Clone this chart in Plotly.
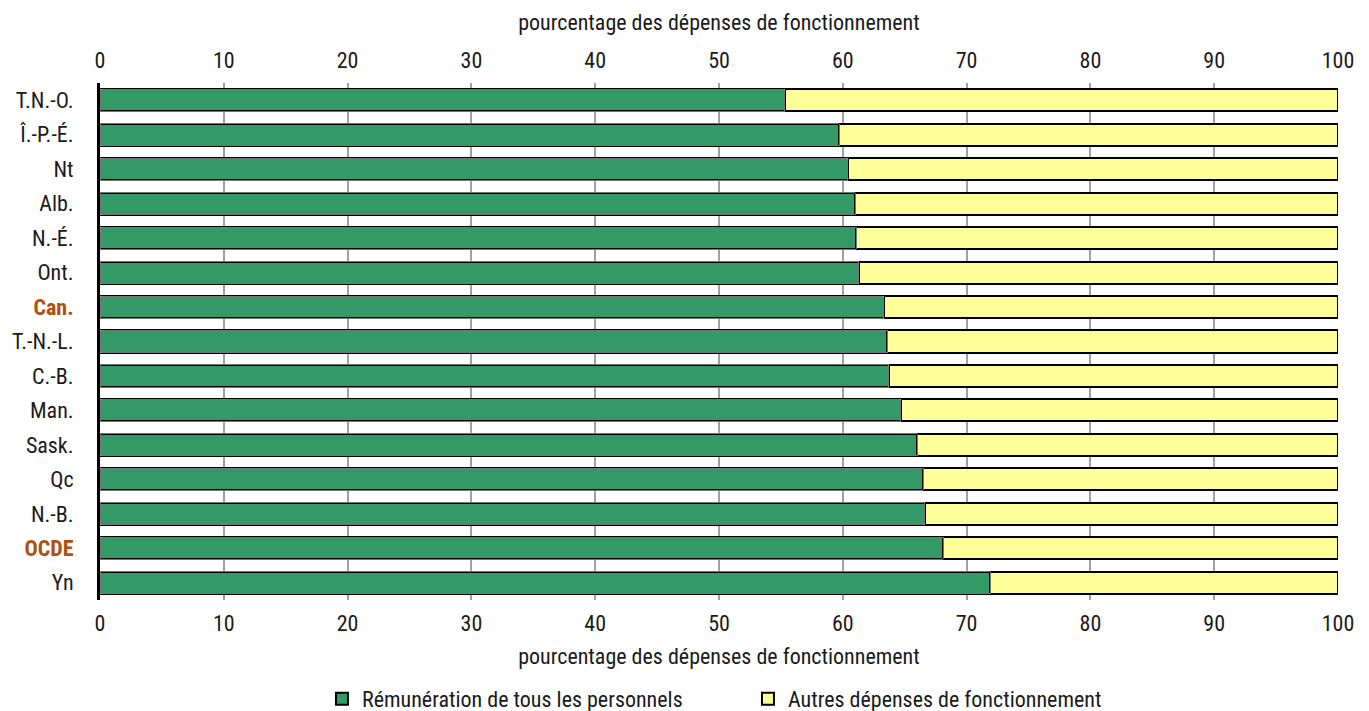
import plotly.graph_objects as go

# Jurisdictions, top to bottom
regions = ["T.N.-O.", "Î.-P.-É.", "Nt", "Alb.", "N.-É.", "Ont.", "Can.", "T.-N.-L.",
           "C.-B.", "Man.", "Sask.", "Qc", "N.-B.", "OCDE", "Yn"]
# Share of operating expenditure (%)
staff_pay = [55.3, 59.7, 60.4, 61.0, 61.1, 61.3, 63.3, 63.6, 63.7, 64.7, 66.0, 66.5, 66.6, 68.1, 71.9]
other_ops = [round(100 - v, 1) for v in staff_pay]
highlighted = {"Can.", "OCDE"}

x_ticks = list(range(0, 101, 10))
axis_title = "pourcentage des dépenses de fonctionnement"
series_names = ["Rémunération de tous les personnels", "Autres dépenses de fonctionnement"]

FONT = "Roboto Condensed, Noto Sans Condensed, Liberation Sans Narrow, DejaVu Sans Condensed, sans-serif"
FS = 22
GREEN = "#339966"
YELLOW = "#FFFF99"
ACCENT = "#B0500F"
INK = "#1a1a1a"

tick_text = [
    f"<b><span style='color:{ACCENT}'>{r}</span></b>" if r in highlighted else r
    for r in regions
]

fig = go.Figure()
fig.add_bar(
    y=regions, x=staff_pay, orientation="h", name=series_names[0],
    marker=dict(color=GREEN, line=dict(color="black", width=2)),
)
fig.add_bar(
    y=regions, x=other_ops, orientation="h", name=series_names[1],
    marker=dict(color=YELLOW, line=dict(color="black", width=2)),
)
# same data on the top axis so that it is drawn
fig.add_bar(
    y=regions, x=staff_pay, orientation="h", xaxis="x2", showlegend=False,
    marker=dict(color="rgba(0,0,0,0)"), hoverinfo="skip",
)

axis_common = dict(
    range=[0, 100], tickvals=x_ticks, ticktext=[str(t) for t in x_ticks],
    showgrid=True, gridcolor="#A0A0A0", gridwidth=2, zeroline=False,
    showline=False, ticks="", tickfont=dict(size=FS, color=INK),
    automargin=False,
)

fig.update_layout(
    barmode="stack",
    bargap=0.36,
    width=1369, height=711,
    margin=dict(l=100, r=31, t=83, b=111),
    paper_bgcolor="white", plot_bgcolor="white",
    font=dict(family=FONT, size=FS, color=INK),
    xaxis=dict(**axis_common, side="bottom", ticklabelstandoff=8,
               title=dict(text=axis_title, font=dict(size=FS, color=INK), standoff=13)),
    xaxis2=dict(**axis_common, side="top", overlaying="x", matches="x", ticklabelstandoff=10,
                title=dict(text=axis_title, font=dict(size=FS, color=INK), standoff=10)),
    yaxis=dict(
        categoryorder="array", categoryarray=regions, autorange="reversed",
        tickvals=regions, ticktext=tick_text, ticks="", ticklabelstandoff=19,
        showgrid=False, showline=True, linecolor="black", linewidth=3,
        tickfont=dict(size=FS, color=INK), automargin=False,
    ),
    legend=dict(
        orientation="h", x=0.1793, xanchor="left", y=0.017, yanchor="middle",
        yref="container", entrywidth=381, font=dict(size=FS),
        traceorder="normal",
    ),
)

fig.write_html("out.html")
